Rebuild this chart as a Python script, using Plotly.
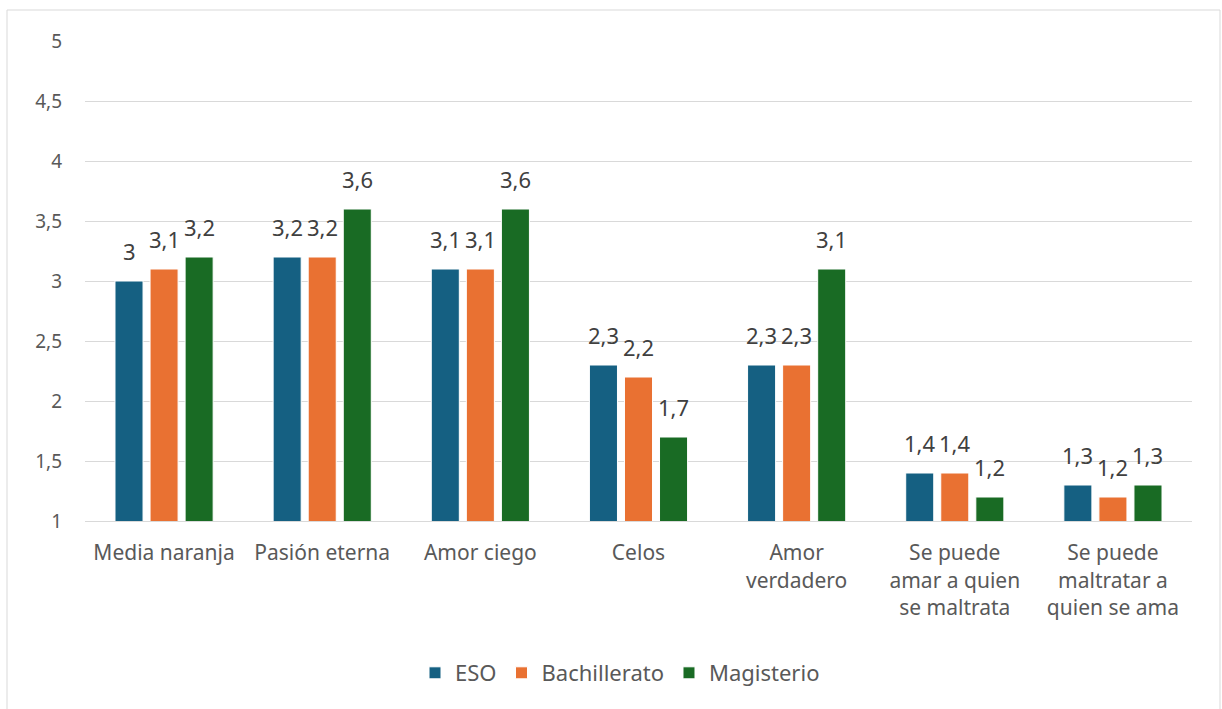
import plotly.graph_objects as go

categories = ["Media naranja", "Pasión eterna", "Amor ciego", "Celos",
              "Amor<br>verdadero", "Se puede<br>amar a quien<br>se maltrata",
              "Se puede<br>maltratar a<br>quien se ama"]
eso = [3.0, 3.2, 3.1, 2.3, 2.3, 1.4, 1.3]
bachillerato = [3.1, 3.2, 3.1, 2.2, 2.3, 1.4, 1.2]
magisterio = [3.2, 3.6, 3.6, 1.7, 3.1, 1.2, 1.3]
y_ticks = [1, 1.5, 2, 2.5, 3, 3.5, 4, 4.5, 5]

series = [("ESO", eso, "#156082"),
          ("Bachillerato", bachillerato, "#E97132"),
          ("Magisterio", magisterio, "#196B24")]

FONT = "Noto Sans"
BARGAP = 0.335

def fmt(v):
    return ("%g" % v).replace(".", ",")

W, H = 1222, 709
L, R, T, B = 85, 30, 41, 188
pw, ph = W - L - R, H - T - B

fig = go.Figure()
annotations = []
n = len(series)
cat_px = pw / len(categories)
slot_px = cat_px * (1 - BARGAP) / n
for k, (name, vals, col) in enumerate(series):
    fig.add_trace(go.Bar(
        name=name, x=categories, y=vals,
        marker=dict(color=col, line=dict(color="white", width=1)),
    ))
    for c, v in zip(categories, vals):
        annotations.append(dict(
            x=c, y=v, xref="x", yref="y", text=fmt(v), showarrow=False,
            xanchor="center", yanchor="bottom",
            xshift=(k - (n - 1) / 2) * slot_px, yshift=13,
            font=dict(family=FONT, size=22, color="#404040"),
        ))

fig.update_layout(
    width=W, height=H,
    barmode="group", bargap=BARGAP, bargroupgap=0.2,
    separators=",.",
    paper_bgcolor="white", plot_bgcolor="white",
    margin=dict(l=L, r=R, t=T, b=B),
    font=dict(family=FONT, size=21, color="#595959"),
    xaxis=dict(showgrid=False, showline=True, linecolor="#D9D9D9", linewidth=1,
               ticks="", ticklabelstandoff=13,
               tickfont=dict(size=21, color="#595959")),
    yaxis=dict(range=[1, 5], tickvals=y_ticks, showgrid=True, gridcolor="#D9D9D9",
               gridwidth=1, zeroline=False, showline=False, ticks="",
               ticklabelstandoff=22,
               tickfont=dict(size=19, color="#595959")),
    legend=dict(orientation="h", x=(620 - L) / pw, xanchor="center",
                y=(521 - 673) / ph, yanchor="middle",
                font=dict(size=22, color="#595959"), itemwidth=30,
                traceorder="normal"),
    annotations=annotations,
    shapes=[dict(type="rect", xref="paper", yref="paper",
                 x0=(7 - L) / pw, x1=(1220 - L) / pw,
                 y0=(521 - 760) / ph, y1=(521 - 10) / ph,
                 line=dict(color="#D9D9D9", width=1), fillcolor="rgba(0,0,0,0)",
                 layer="below")],
)

fig.write_html("out.html", config={"displayModeBar": False},
               post_script="document.body.style.margin='0';document.body.style.overflow='hidden';")
